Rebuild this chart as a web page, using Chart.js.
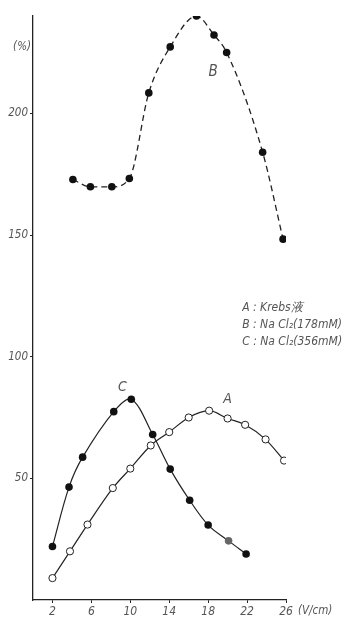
<!DOCTYPE html>
<html>
<head>
<meta charset="utf-8">
<script src="https://cdn.jsdelivr.net/npm/chart.js@4/dist/chart.umd.min.js"></script>
<style>
  html, body { margin: 0; padding: 0; background: #fff; }
  #wrap { width: 348px; height: 619px; position: relative; }
</style>
</head>
<body>
<div id="wrap"><canvas id="chart"></canvas></div>
<script>
// field strength (V/cm) and response (%) for each solution
const xA = [2, 3.8, 5.6, 8.2, 10, 12.1, 14, 16, 18.1, 20, 21.8, 23.9, 25.8];
const yA = [9, 20, 31, 46, 54, 63.5, 69, 75, 77.8, 74.6, 72, 66, 57.3];

const xB = [4.1, 5.9, 8.1, 9.9, 11.9, 14.1, 16.8, 18.6, 19.9, 23.6, 25.7];
const yB = [172.8, 169.8, 169.8, 173.2, 208.4, 227.3, 240, 232.2, 225, 184, 148.3];

const xC = [2, 3.7, 5.1, 8.3, 10.1, 12.3, 14.1, 16.1, 18, 20.1, 21.9];
const yC = [22, 46.4, 58.7, 77.4, 82.5, 68, 53.8, 41, 30.8, 24.3, 18.9];

const xTicks = [2, 6, 10, 14, 18, 22, 26];
const yTicks = [50, 100, 150, 200];

const legendLines = ['A : Krebs液', 'B : Na Cl₂(178mM)', 'C : Na Cl₂(356mM)'];

const ink = '#222';
const textGray = '#555';
const font = 'DejaVu Sans Condensed, DejaVu Sans, sans-serif';

const pts = (xs, ys) => xs.map((x, i) => ({ x: x, y: ys[i] }));

// curve labels and the key, placed in data coordinates
const notes = {
  id: 'notes',
  afterDatasetsDraw(chart) {
    const { ctx, scales: { x, y } } = chart;
    ctx.save();
    ctx.fillStyle = textGray;
    ctx.textBaseline = 'middle';
    ctx.textAlign = 'center';
    ctx.font = 'italic 15px ' + font;
    ctx.fillText('B', x.getPixelForValue(18.5), y.getPixelForValue(217));
    ctx.font = 'italic 14px ' + font;
    ctx.fillText('C', x.getPixelForValue(9.2), y.getPixelForValue(87.5));
    ctx.fillText('A', x.getPixelForValue(20), y.getPixelForValue(82.3));

    ctx.textAlign = 'left';
    ctx.font = 'italic 12px ' + font;
    const lx = x.getPixelForValue(21.5);
    [120, 113.2, 106.2].forEach((v, i) => {
      ctx.fillText(legendLines[i], lx, y.getPixelForValue(v));
    });

    // unit captions at the axis ends
    ctx.font = 'italic 11.5px ' + font;
    ctx.textAlign = 'right';
    ctx.fillText('(%)', x.left - 2, 47);
    ctx.textAlign = 'left';
    ctx.fillText('(V/cm)', x.right + 12, 611);
    ctx.restore();
  }
};

new Chart(document.getElementById('chart'), {
  type: 'scatter',
  data: {
    datasets: [
      {
        label: 'A',
        data: pts(xA, yA),
        showLine: true,
        cubicInterpolationMode: 'monotone',
        borderColor: ink,
        borderWidth: 1.2,
        pointRadius: 3.6,
        pointBorderWidth: 1,
        pointBackgroundColor: '#fff',
        pointBorderColor: ink
      },
      {
        label: 'B',
        data: pts(xB, yB),
        showLine: true,
        cubicInterpolationMode: 'monotone',
        borderColor: ink,
        borderWidth: 1.3,
        borderDash: [6, 4],
        pointRadius: 3.8,
        pointBorderWidth: 0,
        pointBackgroundColor: '#111'
      },
      {
        label: 'C',
        data: pts(xC, yC),
        showLine: true,
        tension: 0.35,
        borderColor: ink,
        borderWidth: 1.2,
        pointRadius: 3.8,
        pointBorderWidth: 0,
        pointBackgroundColor: xC.map((v, i) => i === 9 ? '#666' : '#111')
      }
    ]
  },
  options: {
    responsive: true,
    maintainAspectRatio: false,
    animation: false,
    layout: { padding: { top: 16, right: 62, left: 0, bottom: 0 } },
    plugins: {
      legend: { display: false },
      tooltip: { enabled: false }
    },
    scales: {
      x: {
        type: 'linear',
        min: 0,
        max: 26,
        afterBuildTicks: (s) => { s.ticks = xTicks.map(v => ({ value: v })); },
        afterFit: (s) => { s.height = 19; },
        grid: { drawOnChartArea: false, drawTicks: true, tickLength: 3, color: ink },
        border: { color: ink, width: 1.3 },
        ticks: {
          color: textGray,
          padding: 2,
          maxRotation: 0,
          font: { family: font, size: 12, style: 'italic' }
        }
      },
      y: {
        type: 'linear',
        min: 0,
        max: 240,
        afterBuildTicks: (s) => { s.ticks = yTicks.map(v => ({ value: v })); },
        afterFit: (s) => { s.width = 33; },
        grid: { drawOnChartArea: false, drawTicks: true, tickLength: 3, color: ink },
        border: { color: ink, width: 1.3 },
        ticks: {
          color: textGray,
          padding: 2,
          font: { family: font, size: 11.5, style: 'italic' }
        }
      }
    }
  },
  plugins: [notes]
});
</script>
</body>
</html>
